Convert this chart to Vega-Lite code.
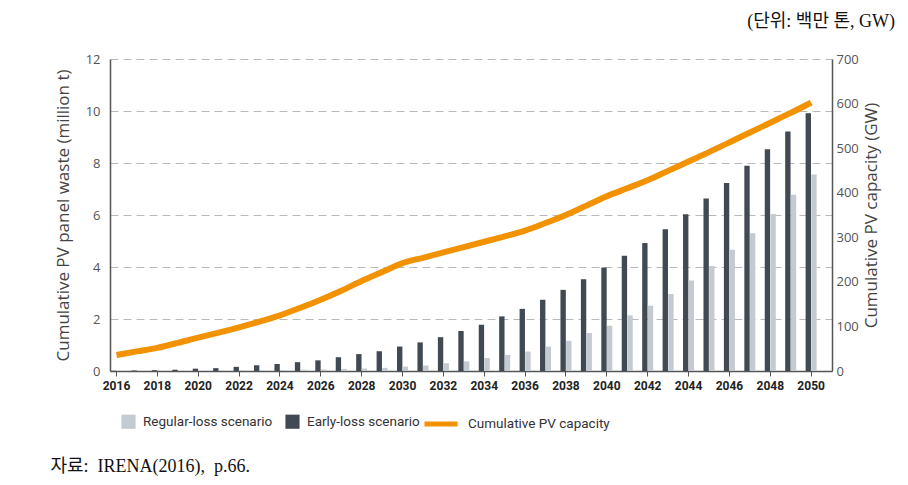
{
  "$schema": "https://vega.github.io/schema/vega-lite/v6.json",
  "width": 722,
  "height": 312,
  "autosize": {"type": "none"},
  "padding": {"left": 110, "top": 59, "right": 76, "bottom": 114},
  "background": "white",
  "config": {
    "view": {"stroke": null},
    "axis": {"labelFont": "Open Sans", "titleFont": "Open Sans"},
    "legend": {"padding": 0}
  },
  "title": {
    "text": "(단위: 백만 톤, GW)",
    "anchor": "end",
    "frame": "group",
    "orient": "top",
    "font": "Liberation Serif, Noto Sans CJK KR",
    "fontSize": 18,
    "fontWeight": "normal",
    "color": "#111111",
    "dx": 63,
    "offset": 22
  },
  "datasets": {
    "waste": [
      {"year": 2016, "scenario": "Early-loss scenario", "waste": 0.01},
      {"year": 2017, "scenario": "Early-loss scenario", "waste": 0.02},
      {"year": 2018, "scenario": "Early-loss scenario", "waste": 0.03},
      {"year": 2019, "scenario": "Early-loss scenario", "waste": 0.05},
      {"year": 2020, "scenario": "Early-loss scenario", "waste": 0.09},
      {"year": 2021, "scenario": "Early-loss scenario", "waste": 0.11},
      {"year": 2022, "scenario": "Early-loss scenario", "waste": 0.16},
      {"year": 2023, "scenario": "Early-loss scenario", "waste": 0.22},
      {"year": 2024, "scenario": "Early-loss scenario", "waste": 0.27},
      {"year": 2025, "scenario": "Early-loss scenario", "waste": 0.34},
      {"year": 2026, "scenario": "Early-loss scenario", "waste": 0.41},
      {"year": 2027, "scenario": "Early-loss scenario", "waste": 0.53},
      {"year": 2028, "scenario": "Early-loss scenario", "waste": 0.65},
      {"year": 2029, "scenario": "Early-loss scenario", "waste": 0.76},
      {"year": 2030, "scenario": "Early-loss scenario", "waste": 0.94},
      {"year": 2031, "scenario": "Early-loss scenario", "waste": 1.1},
      {"year": 2032, "scenario": "Early-loss scenario", "waste": 1.3},
      {"year": 2033, "scenario": "Early-loss scenario", "waste": 1.54},
      {"year": 2034, "scenario": "Early-loss scenario", "waste": 1.78},
      {"year": 2035, "scenario": "Early-loss scenario", "waste": 2.1},
      {"year": 2036, "scenario": "Early-loss scenario", "waste": 2.39},
      {"year": 2037, "scenario": "Early-loss scenario", "waste": 2.74},
      {"year": 2038, "scenario": "Early-loss scenario", "waste": 3.12},
      {"year": 2039, "scenario": "Early-loss scenario", "waste": 3.53},
      {"year": 2040, "scenario": "Early-loss scenario", "waste": 3.98},
      {"year": 2041, "scenario": "Early-loss scenario", "waste": 4.43},
      {"year": 2042, "scenario": "Early-loss scenario", "waste": 4.92},
      {"year": 2043, "scenario": "Early-loss scenario", "waste": 5.45},
      {"year": 2044, "scenario": "Early-loss scenario", "waste": 6.03},
      {"year": 2045, "scenario": "Early-loss scenario", "waste": 6.63},
      {"year": 2046, "scenario": "Early-loss scenario", "waste": 7.23},
      {"year": 2047, "scenario": "Early-loss scenario", "waste": 7.89},
      {"year": 2048, "scenario": "Early-loss scenario", "waste": 8.53},
      {"year": 2049, "scenario": "Early-loss scenario", "waste": 9.21},
      {"year": 2050, "scenario": "Early-loss scenario", "waste": 9.91},
      {"year": 2016, "scenario": "Regular-loss scenario", "waste": 0.005},
      {"year": 2017, "scenario": "Regular-loss scenario", "waste": 0.007},
      {"year": 2018, "scenario": "Regular-loss scenario", "waste": 0.01},
      {"year": 2019, "scenario": "Regular-loss scenario", "waste": 0.012},
      {"year": 2020, "scenario": "Regular-loss scenario", "waste": 0.015},
      {"year": 2021, "scenario": "Regular-loss scenario", "waste": 0.02},
      {"year": 2022, "scenario": "Regular-loss scenario", "waste": 0.025},
      {"year": 2023, "scenario": "Regular-loss scenario", "waste": 0.03},
      {"year": 2024, "scenario": "Regular-loss scenario", "waste": 0.04},
      {"year": 2025, "scenario": "Regular-loss scenario", "waste": 0.05},
      {"year": 2026, "scenario": "Regular-loss scenario", "waste": 0.06},
      {"year": 2027, "scenario": "Regular-loss scenario", "waste": 0.08},
      {"year": 2028, "scenario": "Regular-loss scenario", "waste": 0.1},
      {"year": 2029, "scenario": "Regular-loss scenario", "waste": 0.12},
      {"year": 2030, "scenario": "Regular-loss scenario", "waste": 0.17},
      {"year": 2031, "scenario": "Regular-loss scenario", "waste": 0.21},
      {"year": 2032, "scenario": "Regular-loss scenario", "waste": 0.3},
      {"year": 2033, "scenario": "Regular-loss scenario", "waste": 0.37},
      {"year": 2034, "scenario": "Regular-loss scenario", "waste": 0.5},
      {"year": 2035, "scenario": "Regular-loss scenario", "waste": 0.62},
      {"year": 2036, "scenario": "Regular-loss scenario", "waste": 0.75},
      {"year": 2037, "scenario": "Regular-loss scenario", "waste": 0.94},
      {"year": 2038, "scenario": "Regular-loss scenario", "waste": 1.16},
      {"year": 2039, "scenario": "Regular-loss scenario", "waste": 1.46},
      {"year": 2040, "scenario": "Regular-loss scenario", "waste": 1.74},
      {"year": 2041, "scenario": "Regular-loss scenario", "waste": 2.14},
      {"year": 2042, "scenario": "Regular-loss scenario", "waste": 2.51},
      {"year": 2043, "scenario": "Regular-loss scenario", "waste": 2.96},
      {"year": 2044, "scenario": "Regular-loss scenario", "waste": 3.48},
      {"year": 2045, "scenario": "Regular-loss scenario", "waste": 4.04},
      {"year": 2046, "scenario": "Regular-loss scenario", "waste": 4.66},
      {"year": 2047, "scenario": "Regular-loss scenario", "waste": 5.3},
      {"year": 2048, "scenario": "Regular-loss scenario", "waste": 6.04},
      {"year": 2049, "scenario": "Regular-loss scenario", "waste": 6.78},
      {"year": 2050, "scenario": "Regular-loss scenario", "waste": 7.56}
    ],
    "capacity": [
      {"year": 2016, "capacity": 36},
      {"year": 2017, "capacity": 44},
      {"year": 2018, "capacity": 52},
      {"year": 2019, "capacity": 63},
      {"year": 2020, "capacity": 75},
      {"year": 2021, "capacity": 86},
      {"year": 2022, "capacity": 98},
      {"year": 2023, "capacity": 111},
      {"year": 2024, "capacity": 125},
      {"year": 2025, "capacity": 142},
      {"year": 2026, "capacity": 160},
      {"year": 2027, "capacity": 180},
      {"year": 2028, "capacity": 202},
      {"year": 2029, "capacity": 222},
      {"year": 2030, "capacity": 242},
      {"year": 2031, "capacity": 254},
      {"year": 2032, "capacity": 266},
      {"year": 2033, "capacity": 278},
      {"year": 2034, "capacity": 290},
      {"year": 2035, "capacity": 302},
      {"year": 2036, "capacity": 315},
      {"year": 2037, "capacity": 332},
      {"year": 2038, "capacity": 350},
      {"year": 2039, "capacity": 371},
      {"year": 2040, "capacity": 392},
      {"year": 2041, "capacity": 410},
      {"year": 2042, "capacity": 428},
      {"year": 2043, "capacity": 449},
      {"year": 2044, "capacity": 470},
      {"year": 2045, "capacity": 491},
      {"year": 2046, "capacity": 513},
      {"year": 2047, "capacity": 535},
      {"year": 2048, "capacity": 557},
      {"year": 2049, "capacity": 579},
      {"year": 2050, "capacity": 602}
    ]
  },
  "layer": [
    {
      "data": {"name": "waste"},
      "mark": {"type": "bar"},
      "encoding": {
        "x": {
          "field": "year",
          "type": "ordinal",
          "scale": {"paddingInner": 0.4616, "paddingOuter": 0.4008, "align": 0.061},
          "axis": {
            "values": [2016, 2018, 2020, 2022, 2024, 2026, 2028, 2030, 2032, 2034, 2036, 2038, 2040, 2042, 2044, 2046, 2048, 2050],
            "labelAngle": 0,
            "labelFont": "Roboto",
            "labelFontWeight": "bold",
            "labelFontSize": 12,
            "labelColor": "#222222",
            "labelPadding": 4,
            "tickSize": 5,
            "tickColor": "#555555",
            "domainColor": "#555555",
            "domainWidth": 1.5,
            "grid": false,
            "title": "자료:\u00a0\u00a0IRENA(2016),\u00a0\u00a0p.66.",
            "titleFont": "Liberation Serif, Noto Sans CJK KR",
            "titleFontSize": 18,
            "titleFontWeight": "normal",
            "titleColor": "#111111",
            "titleX": -60,
            "titleY": 95,
            "titleAnchor": "start",
            "titleAlign": "left",
            "titleBaseline": "middle"
          }
        },
        "xOffset": {
          "field": "scenario",
          "type": "nominal",
          "scale": {"domain": ["Early-loss scenario", "Regular-loss scenario"], "paddingInner": 0.05}
        },
        "y": {
          "field": "waste",
          "type": "quantitative",
          "scale": {"domain": [0, 12]},
          "axis": {
            "values": [0, 2, 4, 6, 8, 10, 12],
            "grid": true,
            "gridDash": [8, 5],
            "gridColor": "#b8b8b8",
            "gridWidth": 1,
            "ticks": false,
            "domainColor": "#555555",
            "domainWidth": 1.5,
            "labelColor": "#555555",
            "labelFontSize": 13,
            "labelPadding": 10,
            "title": "Cumulative PV panel waste (million t)",
            "titleFontSize": 17,
            "titleFontWeight": "normal",
            "titleColor": "#444444",
            "titlePadding": 13
          }
        },
        "fill": {
          "field": "scenario",
          "type": "nominal",
          "scale": {"domain": ["Regular-loss scenario", "Early-loss scenario"], "range": ["#c4cad1", "#414a53"]},
          "legend": {
            "orient": "none",
            "legendX": 11,
            "legendY": 355,
            "direction": "horizontal",
            "title": null,
            "symbolType": "square",
            "symbolSize": 200,
            "symbolStrokeWidth": 0,
            "labelFont": "Roboto",
            "labelFontSize": 13.5,
            "labelColor": "#333333",
            "labelOffset": 7,
            "columnPadding": 12
          }
        }
      }
    },
    {
      "data": {"name": "capacity"},
      "mark": {"type": "line", "strokeWidth": 6, "interpolate": "monotone"},
      "encoding": {
        "x": {"field": "year", "type": "ordinal"},
        "y": {
          "field": "capacity",
          "type": "quantitative",
          "scale": {"domain": [0, 700]},
          "axis": {
            "orient": "right",
            "values": [0, 100, 200, 300, 400, 500, 600, 700],
            "grid": false,
            "ticks": false,
            "domainColor": "#555555",
            "domainWidth": 1.5,
            "labelColor": "#555555",
            "labelFontSize": 13,
            "labelPadding": 4,
            "title": "Cumulative PV capacity (GW)",
            "titleAngle": 270,
            "titleBaseline": "top",
            "titleFontSize": 17,
            "titleFontWeight": "normal",
            "titleColor": "#444444",
            "titlePadding": 5
          }
        },
        "stroke": {
          "datum": "Cumulative PV capacity",
          "type": "nominal",
          "scale": {"range": ["#F39200"]},
          "legend": {
            "orient": "none",
            "legendX": 312,
            "legendY": 346,
            "title": null,
            "symbolType": "stroke",
            "symbolSize": 1089,
            "symbolStrokeWidth": 5,
            "labelFont": "Roboto",
            "labelFontSize": 13.5,
            "labelColor": "#333333",
            "labelOffset": 8
          }
        }
      }
    }
  ],
  "resolve": {"scale": {"y": "independent"}}
}
